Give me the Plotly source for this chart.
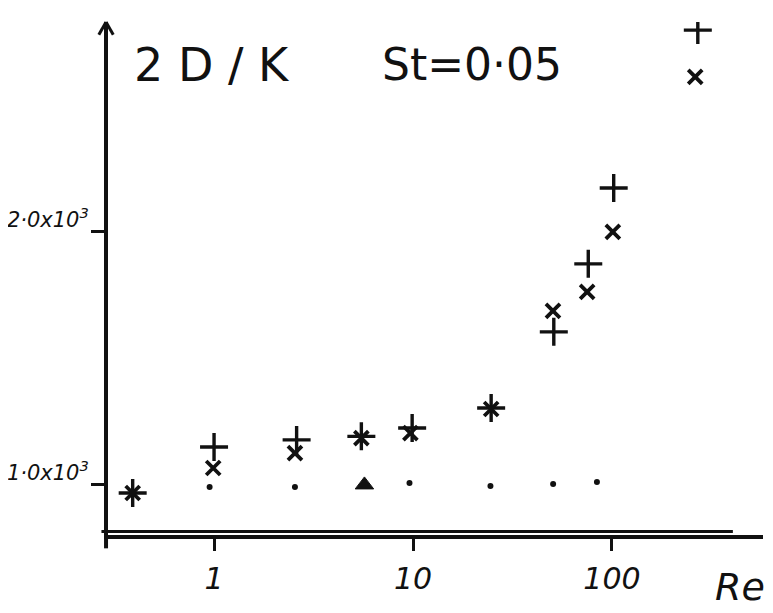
import plotly.graph_objects as go

# Data (Re vs 2D/K, St = 0.05)
re_plus = [0.39, 1.0, 2.6, 5.5, 9.9, 24.7, 51, 76, 102, 270]
val_plus = [968, 1150, 1178, 1192, 1225, 1304, 1605, 1874, 2174, 2798]

re_cross = [0.39, 0.99, 2.55, 5.5, 9.7, 24.7, 50.5, 75, 101, 262]
val_cross = [968, 1067, 1126, 1185, 1205, 1300, 1688, 1763, 2000, 2613]

re_dot = [0.95, 2.55, 9.6, 24.5, 50.6, 84]
val_dot = [992, 992, 1008, 996, 1004, 1012]

re_tri = [5.7]
val_tri = [1000]

x_tickvals = [1, 10, 100]
x_ticktext = ["1", "10", "100"]
y_tickvals = [1000, 2000]
y_ticktext = ["1·0x10<sup>3</sup>", "2·0x10<sup>3</sup>"]

INK = "#111111"
FONT = "DejaVu Sans"

fig = go.Figure()
fig.add_trace(go.Scatter(
    x=re_plus, y=val_plus, mode="markers",
    marker=dict(symbol="cross-thin", size=20, line=dict(width=3.4, color=INK), color=INK),
    showlegend=False))
fig.add_trace(go.Scatter(
    x=re_cross, y=val_cross, mode="markers",
    marker=dict(symbol="x-thin", size=14, line=dict(width=3.8, color=INK), color=INK),
    showlegend=False))
fig.add_trace(go.Scatter(
    x=re_dot, y=val_dot, mode="markers",
    marker=dict(symbol="circle", size=6, color=INK),
    showlegend=False))
fig.add_trace(go.Scatter(
    x=re_tri, y=val_tri, mode="markers",
    marker=dict(symbol="triangle-up", size=16, color=INK, line=dict(width=1, color=INK)),
    showlegend=False))

fig.update_xaxes(
    type="log", range=[-0.533, 2.759], automargin=False,
    showgrid=False, zeroline=False,
    showline=True, linecolor=INK, linewidth=4,
    ticks="outside", ticklen=12, tickwidth=2.5, tickcolor=INK,
    tickvals=x_tickvals, ticktext=x_ticktext,
    tickfont=dict(family=FONT, size=30, color=INK, style="italic"),
    ticklabelstandoff=2,
)
fig.update_yaxes(
    range=[802, 2830], automargin=False,
    showgrid=False, zeroline=False,
    showline=True, linecolor=INK, linewidth=4,
    ticks="outside", ticklen=13, tickwidth=2.5, tickcolor=INK,
    tickvals=y_tickvals, ticktext=y_ticktext,
    tickfont=dict(family=FONT, size=21, color=INK, style="italic"),
    ticklabelshift=-12, ticklabelstandoff=-2,
)

# second line of the hand-drawn double x axis
fig.add_shape(type="line", xref="paper", yref="paper",
              x0=-0.01, x1=0.954, y0=0.0068, y1=0.0068,
              line=dict(color=INK, width=3))
# y axis stub below the x axis
fig.add_shape(type="line", xref="paper", yref="paper",
              x0=-0.003, x1=-0.003, y0=0, y1=-0.026,
              line=dict(color=INK, width=4))
# open arrowhead on the vertical axis
fig.add_shape(type="line", xref="paper", yref="paper",
              x0=-0.003, x1=-0.014, y0=1.0, y1=0.975,
              line=dict(color=INK, width=3))
fig.add_shape(type="line", xref="paper", yref="paper",
              x0=-0.003, x1=0.008, y0=1.0, y1=0.975,
              line=dict(color=INK, width=3))

fig.add_annotation(xref="paper", yref="paper", x=0.036, y=0.917, xanchor="left",
                   yanchor="middle", showarrow=False,
                   text="2 D / K", font=dict(family=FONT, size=46, color=INK))
fig.add_annotation(xref="paper", yref="paper", x=0.415, y=0.917, xanchor="left",
                   yanchor="middle", showarrow=False,
                   text="St=0·05", font=dict(family=FONT, size=44, color=INK))
fig.add_annotation(xref="paper", yref="paper", x=1.006, y=-0.102, xanchor="right",
                   yanchor="middle", showarrow=False,
                   text="Re", font=dict(family=FONT, size=38, color=INK, style="italic"))

# page body has an 8px margin, so the figure is made 8px smaller and shifted
fig.update_layout(
    width=765, height=605,
    margin=dict(l=100, r=10, t=14, b=78),
    plot_bgcolor="white", paper_bgcolor="white",
)

fig.write_html("out.html")
